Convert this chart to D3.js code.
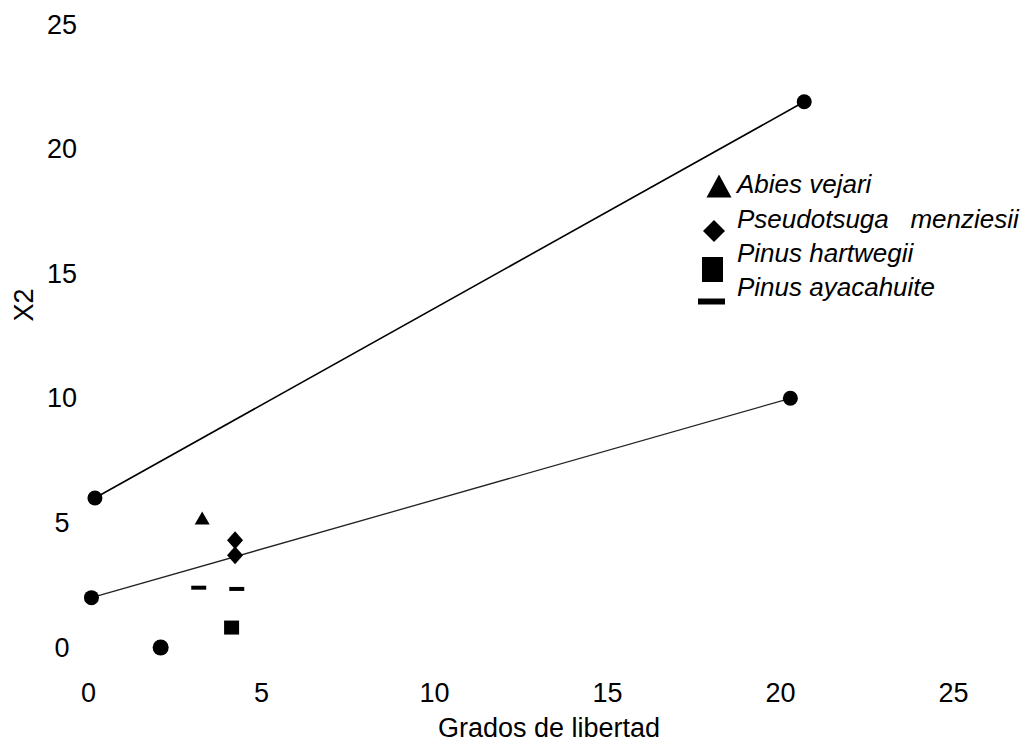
<!DOCTYPE html>
<html>
<head>
<meta charset="utf-8">
<script src="https://cdn.jsdelivr.net/npm/d3@7"></script>
<style>
  html, body { margin: 0; padding: 0; background: #fff; }
  svg { display: block; font-family: "Liberation Sans", Arial, sans-serif; }
</style>
</head>
<body>
<svg id="chart" width="1033" height="749"></svg>
<script>
// ---- data ----
const xTicks = [0, 5, 10, 15, 20, 25];
const yTicks = [0, 5, 10, 15, 20, 25];
const xLabel = "Grados de libertad";
const yLabel = "X2";

// critical-value lines (endpoints with dots)
const upperLine = [[0.2, 6.0], [20.7, 21.9]];
const lowerLine = [[0.1, 2.0], [20.3, 10.0]];

// species points
const abiesVejari = [[3.3, 5.2]];
const pseudotsugaMenziesii = [[4.25, 4.3], [4.25, 3.7]];
const pinusHartwegii = [[4.15, 0.8]];
const pinusAyacahuite = [[3.2, 2.4], [4.3, 2.35]];
const otherPoints = [[2.1, 0.0]];

const legendNames = ["Abies vejari", "Pseudotsuga   menziesii", "Pinus hartwegii", "Pinus ayacahuite"];

// ---- layout ----
const svg = d3.select("#chart");
const x = d3.scaleLinear().domain([0, 25]).range([88, 953]);
const y = d3.scaleLinear().domain([0, 25]).range([647.5, 24.5]);

// shape paths centered at 0,0
function triPath(w, h) { return `M${-w/2},${h/2}L0,${-h/2}L${w/2},${h/2}Z`; }
function diaPath(w, h) { return `M0,${-h/2}L${w/2},0L0,${h/2}L${-w/2},0Z`; }
function rectPath(w, h) { return `M${-w/2},${-h/2}h${w}v${h}h${-w}Z`; }

// axes (labels only)
const xAxis = svg.append("g")
  .attr("transform", "translate(0,683)")
  .call(d3.axisBottom(x).tickValues(xTicks).tickSize(0).tickPadding(0).tickFormat(d3.format("d")));
xAxis.select(".domain").remove();
xAxis.selectAll("text").attr("font-size", 27).attr("fill", "#000")
  .attr("font-family", "Liberation Sans, Arial, sans-serif");

const yAxis = svg.append("g")
  .attr("transform", "translate(62,0)")
  .call(d3.axisLeft(y).tickValues(yTicks).tickSize(0).tickPadding(0).tickFormat(d3.format("d")));
yAxis.select(".domain").remove();
yAxis.selectAll("text").attr("font-size", 27).attr("fill", "#000")
  .attr("x", 0).attr("text-anchor", "middle")
  .attr("font-family", "Liberation Sans, Arial, sans-serif");

svg.append("text").attr("x", 549).attr("y", 737).attr("text-anchor", "middle")
  .attr("font-size", 27).attr("fill", "#000").text(xLabel);
svg.append("text").attr("transform", "translate(33,305) rotate(-90)")
  .attr("text-anchor", "middle").attr("font-size", 27).attr("fill", "#000").text(yLabel);

// lines
const line = d3.line().x(d => x(d[0])).y(d => y(d[1]));
svg.append("path").datum(upperLine).attr("d", line)
  .attr("fill", "none").attr("stroke", "#000").attr("stroke-width", 1.6);
svg.append("path").datum(lowerLine).attr("d", line)
  .attr("fill", "none").attr("stroke", "#222").attr("stroke-width", 1.3);

svg.append("g").selectAll("circle").data(upperLine.concat(lowerLine)).join("circle")
  .attr("cx", d => x(d[0])).attr("cy", d => y(d[1])).attr("r", 7.5).attr("fill", "#000");

svg.append("g").selectAll("circle").data(otherPoints).join("circle")
  .attr("cx", d => x(d[0])).attr("cy", d => y(d[1])).attr("r", 8).attr("fill", "#000");

// species markers
function drawMarks(data, pathStr) {
  svg.append("g").selectAll("path").data(data).join("path")
    .attr("transform", d => `translate(${x(d[0])},${y(d[1])})`)
    .attr("d", pathStr).attr("fill", "#000");
}
drawMarks(abiesVejari, triPath(15, 13));
drawMarks(pseudotsugaMenziesii, diaPath(16, 18));
drawMarks(pinusHartwegii, rectPath(15, 14));
drawMarks(pinusAyacahuite, rectPath(15, 4));

// legend
const legendMarkers = [
  { cx: 719, cy: 186, d: triPath(25, 23) },
  { cx: 714, cy: 231, d: diaPath(22, 22) },
  { cx: 712.5, cy: 269.5, d: rectPath(21, 25) },
  { cx: 711.5, cy: 301.5, d: rectPath(27, 6) }
];
const legendBaselines = [193, 228, 262, 296];
const lg = svg.append("g");
lg.selectAll("path").data(legendMarkers).join("path")
  .attr("transform", d => `translate(${d.cx},${d.cy})`).attr("d", d => d.d).attr("fill", "#000");
lg.selectAll("text").data(legendNames).join("text")
  .attr("x", 737).attr("y", (d, i) => legendBaselines[i])
  .attr("font-size", 26).attr("font-style", "italic").attr("fill", "#000")
  .style("white-space", "pre")
  .text(d => d);
</script>
</body>
</html>
